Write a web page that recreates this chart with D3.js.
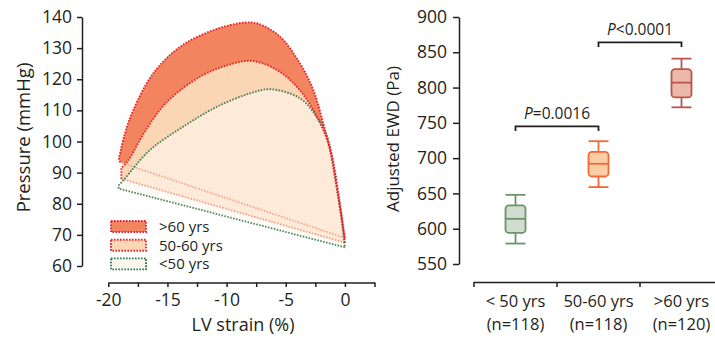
<!DOCTYPE html>
<html>
<head>
<meta charset="utf-8">
<script src="https://cdn.jsdelivr.net/npm/d3@7"></script>
<style>
  html, body { margin: 0; padding: 0; background: #fff; }
  svg { display: block; font-family: "Open Sans", "Liberation Sans", sans-serif; }
</style>
</head>
<body>
<svg id="chart" width="715" height="338"></svg>
<script>
// ---------- DATA: left panel (pressure-strain loops) ----------
const loopGroups = [">60 yrs", "50-60 yrs", "<50 yrs"];
// upper (systolic) curve points: [strain %, pressure mmHg]
const upperOver60 = [[-19.1, 94.5], [-18.6, 102.5], [-17.9, 110], [-16.2, 121.9], [-13.9, 130.5], [-11.1, 135.8], [-8.5, 138.2], [-7.3, 137.8], [-5.5, 133.7], [-3.8, 125.1], [-2.67, 116.5], [-1.83, 105.8], [-1.26, 97.2], [-0.56, 82], [0, 69]];
const upper50to60 = [[-18.9, 91.5], [-18.3, 94], [-17.0, 102.6], [-15.1, 112.5], [-12.25, 120.8], [-10.0, 124.4], [-7.9, 125.9], [-5.76, 123], [-4.07, 117.6], [-2.67, 110.1], [-1.3, 98.3], [-0.5, 82], [0, 67.5]];
const upperUnder50 = [[-19.1, 86], [-18.6, 88.1], [-16.5, 97.2], [-13.7, 104.7], [-10.8, 111.2], [-8.0, 115.5], [-6.3, 116.8], [-3.8, 113.9], [-2.4, 108], [-1.5, 101.5], [-0.55, 82], [0, 66]];
// lower (filling) straight lines: [strain %, pressure mmHg] from end of ejection back to start
const lowerOver60 = [[0, 69], [-19.0, 93.3]];
const lower50to60 = [[0, 67.5], [-18.9, 88]];
const lowerUnder50 = [[0, 66], [-19.15, 84.9]];
const strainTicks = [-20, -15, -10, -5, 0];
const pressureTicks = [60, 70, 80, 90, 100, 110, 120, 130, 140];

// ---------- DATA: right panel (box plots) ----------
const ageCats = ["< 50 yrs", "50-60 yrs", ">60 yrs"];
const ageN = ["(n=118)", "(n=118)", "(n=120)"];
const ewdMin = [579, 659, 772];
const ewdQ1 = [594, 674, 786];
const ewdMedian = [614, 692, 807];
const ewdQ3 = [633, 709, 826];
const ewdMax = [648, 724, 841];
const ewdTicks = [550, 600, 650, 700, 750, 800, 850, 900];
const pLabels = ["=0.0016", "<0.0001"];
const pPairs = [[0, 1], [1, 2]];
const pLevels = [745, 864];

// ---------- drawing ----------
const svg = d3.select("#chart");
const FONT = '"Open Sans", "Liberation Sans", sans-serif';

// Left panel scales
const xS = d3.scaleLinear().domain([-20, 2.5]).range([108.3, 374.5]);
const yP = d3.scaleLinear().domain([60, 140]).range([266, 17]);

const loops = [
  { upper: upperOver60, lower: lowerOver60, fill: "#f2845f", fillOp: 1, upStroke: "#e8212b", lowStroke: "#f2a88e" },
  { upper: upper50to60, lower: lower50to60, fill: "#fbd6b5", fillOp: 1, upStroke: "#e8262c", lowStroke: "#f3a183" },
  { upper: upperUnder50, lower: lowerUnder50, fill: "#fdf7ef", fillOp: 0.62, upStroke: "#4f7d52", lowStroke: "#4f8a5a" }
];
const curveGen = d3.line().x(d => xS(d[0])).y(d => yP(d[1])).curve(d3.curveCatmullRom.alpha(0.5));
const straightGen = d3.line().x(d => xS(d[0])).y(d => yP(d[1]));

const gLoops = svg.append("g");
loops.forEach(L => {
  const d = curveGen(L.upper) + "L" + L.lower.slice(1).map(p => xS(p[0]) + "," + yP(p[1])).join("L") + "Z";
  gLoops.append("path").attr("d", d).attr("fill", L.fill).attr("fill-opacity", L.fillOp).attr("stroke", "none");
});
const dash = "1.6,1.4";
loops.forEach(L => {
  gLoops.append("path").attr("d", straightGen(L.lower))
    .attr("fill", "none").attr("stroke", L.lowStroke).attr("stroke-width", 1.8)
    .attr("stroke-dasharray", dash);
});
loops.slice().reverse().forEach(L => {
  gLoops.append("path").attr("d", straightGen([L.lower[1], L.upper[0]]) + curveGen(L.upper).replace(/^M/, "L"))
    .attr("fill", "none").attr("stroke", L.upStroke).attr("stroke-width", 1.9)
    .attr("stroke-dasharray", dash);
});

// Left axes
const axisStyle = g => {
  g.selectAll("path.domain").attr("stroke", "#231f20").attr("stroke-width", 1.5);
  g.selectAll(".tick line").attr("stroke", "#231f20").attr("stroke-width", 1.5);
  g.selectAll("text").attr("fill", "#231f20").style("font-family", FONT);
};
const yAxisL = svg.append("g").attr("transform", "translate(82,0)")
  .call(d3.axisLeft(yP).tickValues(pressureTicks).tickSize(5).tickSizeOuter(0).tickPadding(5));
axisStyle(yAxisL);
yAxisL.selectAll("text").style("font-size", "17.5px");

const minorTicks = d3.range(-20, 2.6, 2.5);
const xAxisL = svg.append("g").attr("transform", "translate(0,282.5)")
  .call(d3.axisBottom(xS).tickValues(minorTicks).tickSize(4.5).tickSizeOuter(0).tickPadding(7)
    .tickFormat(d => strainTicks.includes(d) ? (d === 0 ? "0" : "-" + Math.abs(d)) : ""));
axisStyle(xAxisL);
xAxisL.selectAll("text").style("font-size", "17.5px");

svg.append("text").attr("x", 243).attr("y", 331).attr("text-anchor", "middle")
  .style("font-family", FONT).style("font-size", "18px").attr("fill", "#231f20").text("LV strain (%)");
svg.append("text").attr("transform", "translate(30,137.5) rotate(-90)").attr("text-anchor", "middle")
  .style("font-family", FONT).style("font-size", "18.5px").attr("fill", "#231f20").text("Pressure (mmHg)");

// Legend
const legFill = [loops[0].fill, loops[1].fill, "#f9f6f0"];
const legStroke = ["#e8212b", "#e8262c", "#2f7a46"];
const legY = d3.scaleBand().domain(loopGroups).range([221, 272]).paddingInner(0.27);
loopGroups.forEach((g, i) => {
  svg.append("rect").attr("x", 111).attr("y", legY(g)).attr("width", 35).attr("height", 11)
    .attr("fill", legFill[i]).attr("stroke", legStroke[i]).attr("stroke-width", 1.9).attr("stroke-dasharray", dash);
  svg.append("text").attr("x", 159).attr("y", legY(g) + 11).style("font-family", FONT)
    .style("font-size", "15px").attr("fill", "#231f20").text(g);
});

// ---------- Right panel ----------
const yE = d3.scaleLinear().domain([550, 900]).range([264, 17]);
const xB = d3.scaleBand().domain(ageCats).range([474, 723]);

const yAxisR = svg.append("g").attr("transform", "translate(459,0)")
  .call(d3.axisLeft(yE).tickValues(ewdTicks).tickSize(6).tickSizeOuter(0).tickPadding(6));
axisStyle(yAxisR);
yAxisR.selectAll("text").style("font-size", "17.5px");

// category axis with ticks at band boundaries
const gx = svg.append("g");
const bx0 = xB.range()[0], bx1 = xB.range()[1];
gx.append("path").attr("d", `M${bx0},287V282.5H${bx1}`).attr("fill", "none").attr("stroke", "#231f20").attr("stroke-width", 1.5);
ageCats.slice(1).forEach(c => {
  gx.append("line").attr("x1", xB(c)).attr("x2", xB(c)).attr("y1", 282.5).attr("y2", 287)
    .attr("stroke", "#231f20").attr("stroke-width", 1.5);
});
ageCats.forEach((c, i) => {
  const cx = xB(c) + xB.bandwidth() / 2;
  gx.append("text").attr("x", cx).attr("y", 307).attr("text-anchor", "middle")
    .style("font-family", FONT).style("font-size", "16.5px").attr("fill", "#231f20").text(c);
  gx.append("text").attr("x", cx).attr("y", 330).attr("text-anchor", "middle")
    .style("font-family", FONT).style("font-size", "16.5px").attr("fill", "#231f20").text(ageN[i]);
});

svg.append("text").attr("transform", "translate(399,139) rotate(-90)").attr("text-anchor", "middle")
  .style("font-family", FONT).style("font-size", "17px").attr("fill", "#231f20").text("Adjusted EWD (Pa)");

// Box plots
const boxStroke = ["#6a956b", "#f26a35", "#b9554c"];
const boxFill = ["#d2ddd0", "#fbcda6", "#ebb8aa"];
const bw = 20;
ageCats.forEach((c, i) => {
  const cx = xB(c) + xB.bandwidth() / 2;
  const g = svg.append("g").attr("stroke", boxStroke[i]).attr("stroke-width", 1.8).attr("fill", "none");
  g.append("line").attr("x1", cx).attr("x2", cx).attr("y1", yE(ewdMax[i])).attr("y2", yE(ewdQ3[i]));
  g.append("line").attr("x1", cx).attr("x2", cx).attr("y1", yE(ewdQ1[i])).attr("y2", yE(ewdMin[i]));
  g.append("line").attr("x1", cx - bw / 2).attr("x2", cx + bw / 2).attr("y1", yE(ewdMax[i])).attr("y2", yE(ewdMax[i]));
  g.append("line").attr("x1", cx - bw / 2).attr("x2", cx + bw / 2).attr("y1", yE(ewdMin[i])).attr("y2", yE(ewdMin[i]));
  g.append("rect").attr("x", cx - bw / 2).attr("y", yE(ewdQ3[i])).attr("width", bw)
    .attr("height", yE(ewdQ1[i]) - yE(ewdQ3[i])).attr("rx", 3.5).attr("fill", boxFill[i]);
  g.append("line").attr("x1", cx - bw / 2).attr("x2", cx + bw / 2).attr("y1", yE(ewdMedian[i])).attr("y2", yE(ewdMedian[i]));
});

// Significance brackets
pPairs.forEach((pr, i) => {
  const xa = xB(ageCats[pr[0]]) + xB.bandwidth() / 2;
  const xb = xB(ageCats[pr[1]]) + xB.bandwidth() / 2;
  const yy = yE(pLevels[i]);
  svg.append("path").attr("d", `M${xa},${yy + 4.5}V${yy}H${xb}V${yy + 4.5}`)
    .attr("fill", "none").attr("stroke", "#231f20").attr("stroke-width", 1.8);
  const t = svg.append("text").attr("x", (xa + xb) / 2).attr("y", yy - 7).attr("text-anchor", "middle")
    .style("font-family", FONT).style("font-size", "15.5px").attr("fill", "#231f20");
  t.append("tspan").style("font-style", "italic").text("P");
  t.append("tspan").text(pLabels[i]);
});
</script>
</body>
</html>
